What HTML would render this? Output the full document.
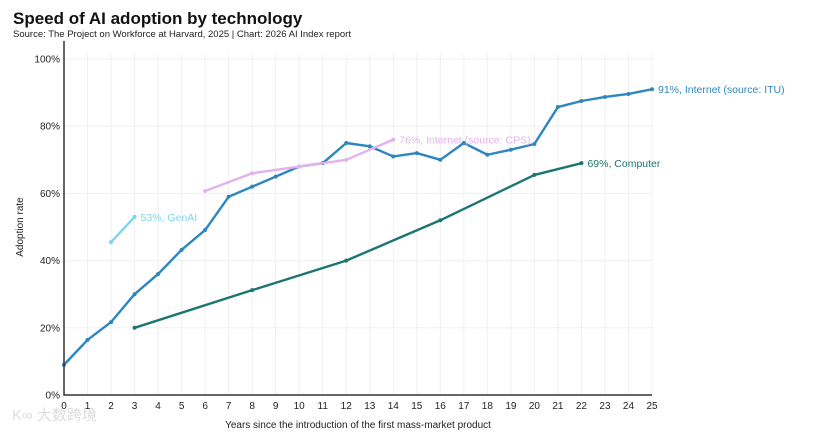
<!DOCTYPE html>
<html><head><meta charset="utf-8"><style>
html,body{margin:0;padding:0;background:#fff;width:815px;height:433px;overflow:hidden}
svg{display:block;font-family:"Liberation Sans","Noto Sans CJK SC",sans-serif}
</style></head><body>
<svg id="chart" width="815" height="433">
<text x="13" y="24" font-size="17" font-weight="bold" fill="#111">Speed of AI adoption by technology</text>
<text x="13" y="37" font-size="9.5" fill="#222">Source: The Project on Workforce at Harvard, 2025 | Chart: 2026 AI Index report</text>
<text transform="translate(23,227) rotate(-90)" text-anchor="middle" font-size="10" fill="#222">Adoption rate</text>
<text x="358" y="428" text-anchor="middle" font-size="10" fill="#222">Years since the introduction of the first mass-market product</text>
<text x="12" y="420" font-size="15" fill="#ddd">K∞ 大数跨境</text>
<g id="grid"></g><g id="series"></g><g id="axes"></g>
</svg>
<script>
const xTicks=[0,1,2,3,4,5,6,7,8,9,10,11,12,13,14,15,16,17,18,19,20,21,22,23,24,25];
const yTicks=[0,20,40,60,80,100];
const itnX=[0,1,2,3,4,5,6,7,8,9,10,11,12,13,14,15,16,17,18,19,20,21,22,23,24,25];
const itnY=[9,16.4,21.7,30,36,43.2,49.1,59,62,65,68,69,75,74,71,72,70,75,71.5,73,74.7,85.7,87.5,88.7,89.6,91];
const cpsX=[6,8,10,12,14];
const cpsY=[60.7,66,68,70,76];
const genX=[2,3];
const genY=[45.5,53];
const compX=[3,8,12,16,20,22];
const compY=[20,31.2,40,52,65.5,69];
const NS="http://www.w3.org/2000/svg";
const X=v=>64+v*23.52, Y=v=>395-v*3.36;
function mk(p,t,a){const e=document.createElementNS(NS,t);for(const k in a)e.setAttribute(k,a[k]);p.appendChild(e);return e;}
const grid=document.getElementById('grid'),axes=document.getElementById('axes'),ser=document.getElementById('series');
xTicks.forEach(t=>{
 const l=mk(grid,'line',{x1:X(t),x2:X(t),y1:Y(100)-5,y2:Y(0),stroke:'#f0f0f0'});
 
 
 const tx=mk(axes,'text',{x:X(t),y:409,'text-anchor':'middle','font-size':10,fill:'#222'});
 tx.textContent=t;
 
 
});
yTicks.forEach(t=>{
 const l=mk(grid,'line',{x1:X(0),x2:X(25),y1:Y(t),y2:Y(t),stroke:'#f0f0f0'});
 
 
 const tx=mk(axes,'text',{x:60,y:Y(t)+3.5,'text-anchor':'end','font-size':10,fill:'#222'});
 tx.textContent=t+'%';
 
 
});
const ax=mk(axes,'path',{d:`M${X(0)},${Y(100)-18}V${Y(0)}H${X(25)}`,fill:'none',stroke:'#333','stroke-width':1.5});


function draw(xs,ys,col,name,label,dx){
 const g=mk(ser,'g',{});
 
 
 const pl=mk(g,'polyline',{points:xs.map((x,i)=>X(x)+','+Y(ys[i])).join(' '),fill:'none',stroke:col,'stroke-width':2.4,'stroke-linejoin':'round'});
 
 
 xs.forEach((x,i)=>{
  const c=mk(g,'circle',{cx:X(x),cy:Y(ys[i]),r:2,fill:col});
  
  
 });
 const n=xs.length-1;
 const t=mk(g,'text',{x:X(xs[n])+6,y:Y(ys[n])+4,'font-size':10.5,fill:col});
 t.textContent=Math.round(ys[n])+label;
 
 
}
draw(compX,compY,'#1b7571','computer-series','%, Computer');
draw(itnX,itnY,'#2e86bf','internet-itu-series','%, Internet (source: ITU)');
draw(cpsX,cpsY,'#e2b2ee','internet-cps-series','%, Internet (source: CPS)');
draw(genX,genY,'#80d3ef','genai-series','%, GenAI');
</script>
</body></html>
